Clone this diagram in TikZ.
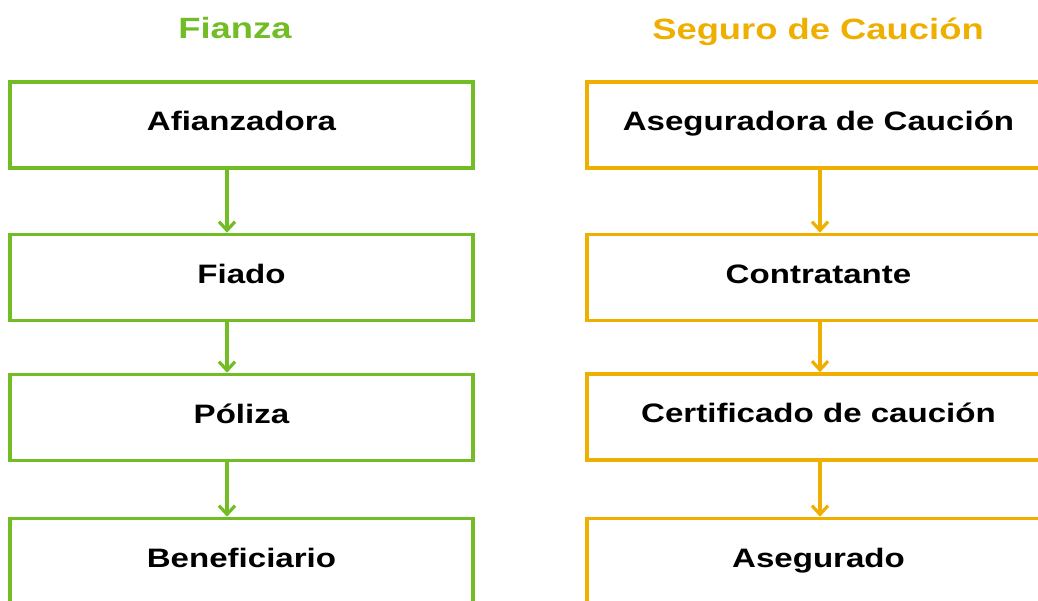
\documentclass[tikz,border=0pt]{standalone}
\usepackage{fontspec}
\setmainfont{Liberation Sans}[FakeStretch=1.24]
\usepackage{tikz}
\usetikzlibrary{arrows.meta}

\definecolor{verdeF}{RGB}{114,189,38}
\definecolor{naranjaS}{RGB}{239,175,0}

\tikzset{
  caja/.style={draw, line width=2.7pt, fill=white, minimum width=347.25pt,
    minimum height=64.5pt, inner sep=0pt, text height=14pt, text depth=5.4pt,
    font=\fontsize{20}{24}\selectfont\bfseries},
  flecha/.style={line width=2.6pt, -{Straight Barb[length=6.5pt, width=12pt, line width=2.4pt]}},
  titulo/.style={anchor=base, font=\fontsize{22}{26}\selectfont\bfseries}
}

\begin{document}
\begin{tikzpicture}[x=0.75pt, y=-0.75pt]

% Marco de la figura
\useasboundingbox (0,0) rectangle (1038,600);

% Titulos
\node[titulo, text=verdeF] (tf) at (235,38.5) {Fianza};
\node[titulo, text=naranjaS] (ts) at (818,39) {Seguro de Caución};

% Columna izquierda - Fianza
\node[caja, draw=verdeF] (f1) at (241.5,125) {Afianzadora};
\node[caja, draw=verdeF] (f2) at (241.5,277.5) {Fiado};
\node[caja, draw=verdeF] (f3) at (241.5,417.5) {Póliza};
\node[caja, draw=verdeF] (f4) at (241.5,561.5) {Beneficiario};

% Columna derecha - Seguro de caucion
\node[caja, draw=naranjaS] (s1) at (818.5,125) {Aseguradora de Caución};
\node[caja, draw=naranjaS] (s2) at (818.5,277.5) {Contratante};
\node[caja, draw=naranjaS] (s3) at (818.5,417) {Certificado de caución};
\node[caja, draw=naranjaS] (s4) at (818.5,561.5) {Asegurado};

% Ejes de las flechas
\coordinate (fx) at (227,0);
\coordinate (sx) at (820,0);

% Flechas
\draw[flecha, verdeF] (fx |- f1.south) -- (fx |- f2.north);
\draw[flecha, verdeF] (fx |- f2.south) -- (fx |- f3.north);
\draw[flecha, verdeF] (fx |- f3.south) -- (fx |- f4.north);

\draw[flecha, naranjaS] (sx |- s1.south) -- (sx |- s2.north);
\draw[flecha, naranjaS] (sx |- s2.south) -- (sx |- s3.north);
\draw[flecha, naranjaS] (sx |- s3.south) -- (sx |- s4.north);

\end{tikzpicture}
\end{document}
